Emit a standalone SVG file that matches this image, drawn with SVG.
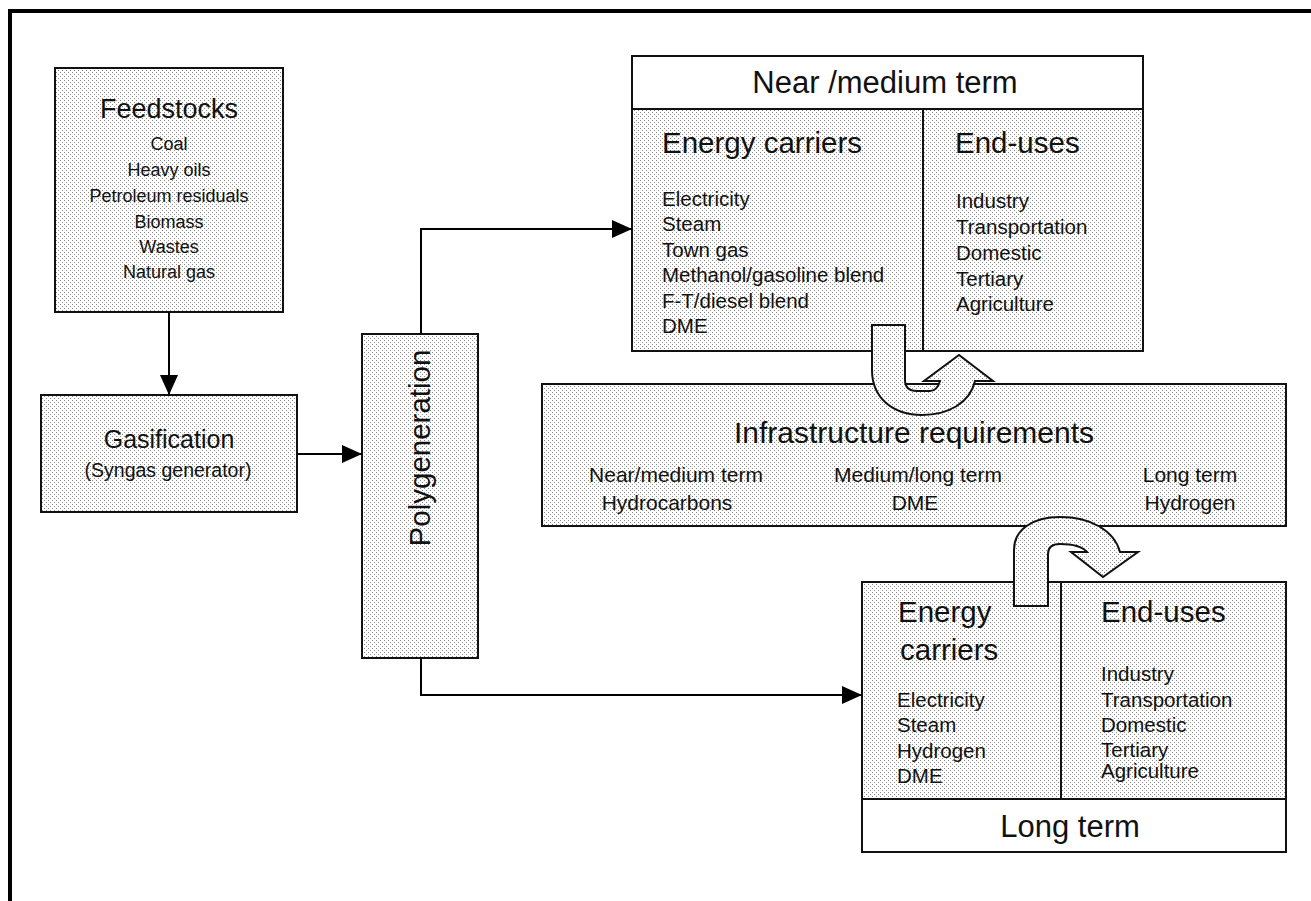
<svg xmlns="http://www.w3.org/2000/svg" width="1311" height="901" viewBox="0 0 1311 901">
  <defs>
    <pattern id="dots" patternUnits="userSpaceOnUse" width="4" height="4">
      <rect width="4" height="4" fill="#ffffff"/>
      <rect x="0" y="0" width="1" height="1" fill="#8a8a8a"/>
      <rect x="2" y="2" width="1" height="1" fill="#8a8a8a"/>
    </pattern>
    <marker id="arr" markerUnits="userSpaceOnUse" markerWidth="20" markerHeight="18" refX="20" refY="9" orient="auto">
      <path d="M0,0 L20,9 L0,18 z" fill="#000"/>
    </marker>
  </defs>
  <style>
    .box { fill: url(#dots); stroke: #111; stroke-width: 2; }
    .white { fill: #fff; stroke: #111; stroke-width: 2; }
    .ln { stroke: #111; stroke-width: 2; fill: none; }
    .conn { stroke: #000; stroke-width: 2; fill: none; }
    .block { fill: url(#dots); stroke: #111; stroke-width: 2; stroke-linejoin: miter; }
    text { font-family: "Liberation Sans", Arial, sans-serif; fill: #111; }
    .t27 { font-size: 27px; }
    .t18 { font-size: 18px; }
    .t25 { font-size: 25px; }
    .t19 { font-size: 19.5px; }
    .title { font-size: 29.5px; }
    .item { font-size: 20.5px; }
    .hdr { font-size: 31px; }
    .infra { font-size: 30px; }
    .sub { font-size: 21px; }
    .mid { text-anchor: middle; }
  </style>
  <rect x="0" y="0" width="1311" height="901" fill="#fff"/>
  <path d="M10,901 V11 H1311" fill="none" stroke="#000" stroke-width="4"/>

  <g id="feedstocks">
    <rect class="box" x="55" y="68" width="228" height="244"/>
    <text class="t27 mid" x="169" y="118">Feedstocks</text>
    <text class="t18 mid" x="169" y="150">Coal</text>
    <text class="t18 mid" x="169" y="176">Heavy oils</text>
    <text class="t18 mid" x="169" y="202">Petroleum residuals</text>
    <text class="t18 mid" x="169" y="228">Biomass</text>
    <text class="t18 mid" x="169" y="253">Wastes</text>
    <text class="t18 mid" x="169" y="278">Natural gas</text>
  </g>

  <g id="gasification">
    <rect class="box" x="41" y="395" width="256" height="117"/>
    <text class="t25 mid" x="169" y="448">Gasification</text>
    <text class="t19 mid" x="168" y="477">(Syngas generator)</text>
  </g>

  <g id="polygeneration">
    <rect class="box" x="362" y="334" width="116" height="324"/>
    <text class="title mid" transform="translate(430,448) rotate(-90)" x="0" y="0">Polygeneration</text>
  </g>

  <g id="near-medium">
    <rect class="box" x="632" y="109" width="511" height="242"/>
    <rect class="white" x="632" y="56" width="511" height="53"/>
    <line class="ln" x1="923" y1="109" x2="923" y2="351"/>
    <text class="hdr mid" x="885" y="93">Near /medium term</text>
    <text class="title" x="662" y="153">Energy carriers</text>
    <text class="item" x="662" y="206">Electricity</text>
    <text class="item" x="662" y="231">Steam</text>
    <text class="item" x="662" y="257">Town gas</text>
    <text class="item" x="662" y="282">Methanol/gasoline blend</text>
    <text class="item" x="662" y="308">F-T/diesel blend</text>
    <text class="item" x="662" y="333">DME</text>
    <text class="title" x="955" y="153">End-uses</text>
    <text class="item" x="956" y="208">Industry</text>
    <text class="item" x="956" y="234">Transportation</text>
    <text class="item" x="956" y="260">Domestic</text>
    <text class="item" x="956" y="286">Tertiary</text>
    <text class="item" x="956" y="311">Agriculture</text>
  </g>

  <g id="infrastructure">
    <rect class="box" x="542" y="384" width="744" height="142"/>
    <text class="infra mid" x="914" y="443">Infrastructure requirements</text>
    <text class="sub mid" x="676" y="482">Near/medium term</text>
    <text class="sub mid" x="667" y="510">Hydrocarbons</text>
    <text class="sub mid" x="918" y="482">Medium/long term</text>
    <text class="sub mid" x="915" y="510">DME</text>
    <text class="sub mid" x="1190" y="482">Long term</text>
    <text class="sub mid" x="1190" y="510">Hydrogen</text>
  </g>

  <g id="long-term">
    <rect class="box" x="862" y="582" width="424" height="217"/>
    <rect class="white" x="862" y="799" width="424" height="53"/>
    <line class="ln" x1="1061" y1="582" x2="1061" y2="799"/>
    <text class="title" x="898" y="622">Energy</text>
    <text class="title" x="900" y="660">carriers</text>
    <text class="item" x="897" y="707">Electricity</text>
    <text class="item" x="897" y="732">Steam</text>
    <text class="item" x="897" y="758">Hydrogen</text>
    <text class="item" x="897" y="783">DME</text>
    <text class="title" x="1101" y="622">End-uses</text>
    <text class="item" x="1101" y="681">Industry</text>
    <text class="item" x="1101" y="707">Transportation</text>
    <text class="item" x="1101" y="732">Domestic</text>
    <text class="item" x="1101" y="757">Tertiary</text>
    <text class="item" x="1101" y="778">Agriculture</text>
    <text class="hdr mid" x="1070" y="837">Long term</text>
  </g>

  <g id="connectors">
    <path class="conn" d="M169,312 V395" marker-end="url(#arr)"/>
    <path class="conn" d="M297,454 H362" marker-end="url(#arr)"/>
    <path class="conn" d="M421,334 V229 H632" marker-end="url(#arr)"/>
    <path class="conn" d="M421,658 V695 H862" marker-end="url(#arr)"/>
    <path id="u-arrow-1" class="block" d="M872,325 H905 V380 Q905,391 917,391 H930 Q937,391 940,381 H924 L959,355 L993,381 H975 C970,403 948,415 922,415 C893,415 872,398 872,370 Z"/>
    <path id="u-arrow-2" class="block" d="M1014,606 H1048 V554 Q1048,544 1060,544 Q1080,544 1087,552 H1071 L1103,577 L1138,552 H1120 C1114,530 1090,517 1060,517 C1032,517 1014,530 1014,550 Z"/>
  </g>
</svg>
